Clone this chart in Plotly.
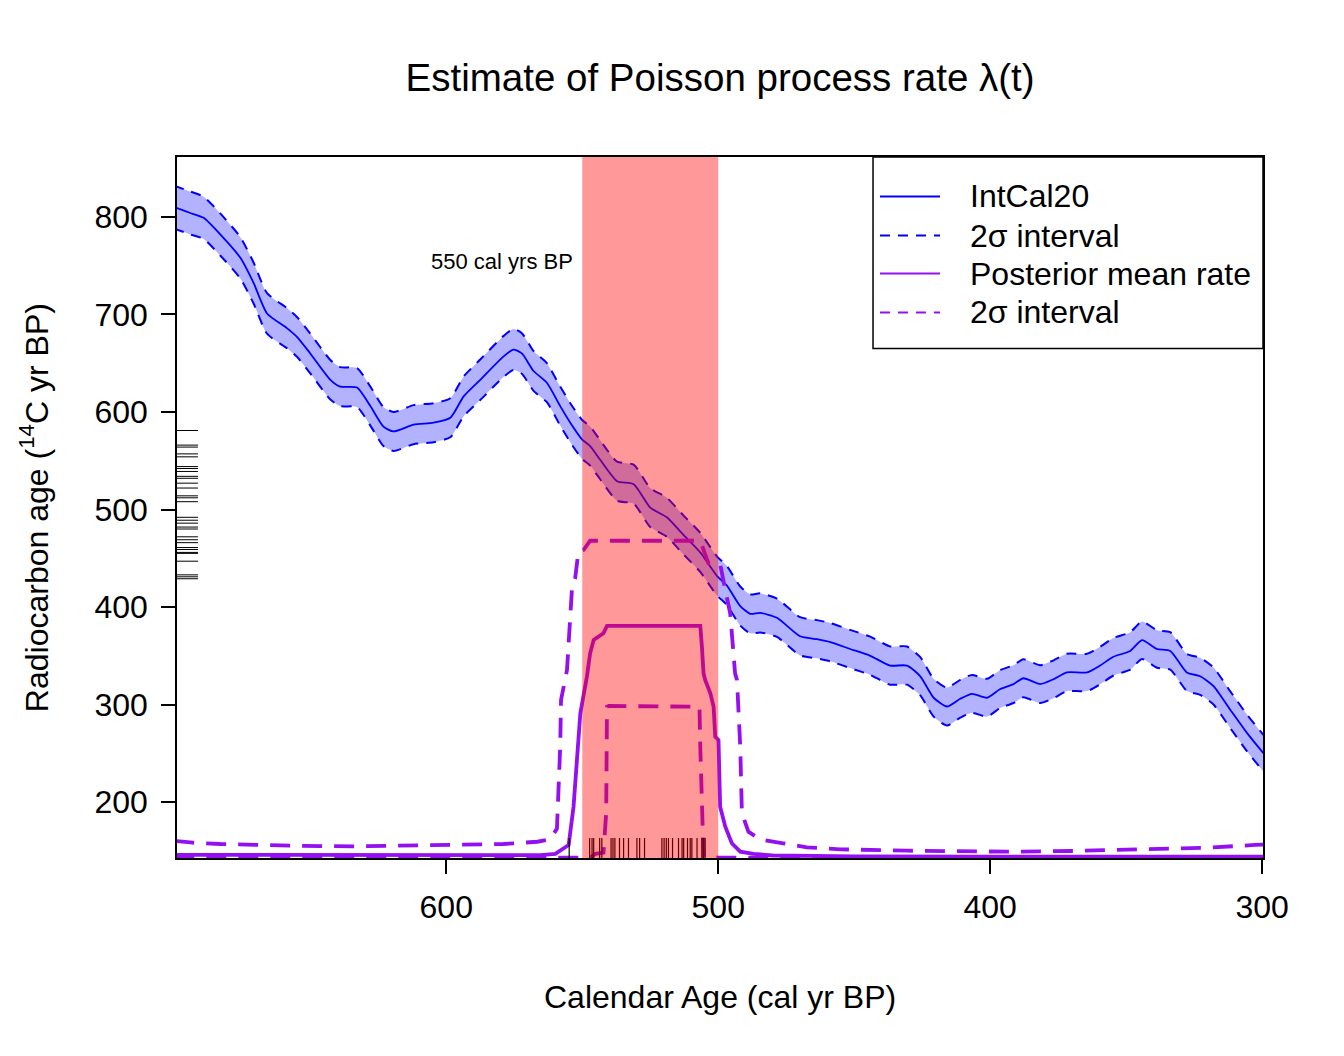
import plotly.graph_objects as go

# IntCal20 curve (cal yr BP, 14C yr BP, 1 sigma)
cal_age = [700, 699.0, 694.1, 689.2, 683.1, 675.7, 670.8, 665.9, 658.6, 654.9, 650.0,
           642.6, 639.0, 632.8, 627.9, 623.1, 619.4, 612.0, 604.7, 598.5, 593.6,
           587.5, 578.9, 575.3, 572.2, 567.9, 563.0, 558.1, 554.4, 550.1, 547.1,
           543.4, 537.2, 531.1, 525.0, 518.9, 512.8, 506.6, 500.5, 496.8, 491.9,
           488.2, 484.6, 478.4, 469.9, 463.7, 458.8, 451.5, 444.1, 436.8, 430.6,
           425.7, 420.8, 415.9, 411.0, 406.7, 401.2, 396.3, 391.4, 387.8, 381.6,
           376.7, 371.8, 364.4, 359.6, 354.7, 348.5, 344.2, 338.7, 333.8, 327.7,
           322.8, 317.9, 311.8, 305.6, 300.1, 299.5]
c14_age = [810, 809, 804, 799, 782, 758, 732, 701, 686, 677, 660,
           633, 626, 625, 606, 585, 580, 587, 589, 594, 616,
           633, 657, 664, 660, 642, 630, 606, 589, 572, 565,
           551, 529, 526, 502, 492, 474, 456, 432, 422, 401,
           393, 394, 389, 370, 367, 364, 357, 350, 340, 340,
           329, 307, 298, 306, 311, 307, 316, 321, 327, 321,
           326, 333, 333, 340, 349, 355, 366, 357, 355, 333,
           329, 319, 295, 271, 252, 250]
c14_sigma = [11.0, 11.0, 11.0, 10.8, 10.8, 10.6, 10.5, 10.4, 10.3, 10.2, 10.2,
             10.1, 10.0, 10.0, 10.0, 10.0, 10.0, 10.0, 10.0, 10.0, 10.2,
             10.4, 10.5, 10.5, 10.4, 10.2, 10.0, 10.0, 10.0, 10.0, 10.0,
             10.0, 10.0, 10.0, 10.0, 10.0, 10.0, 10.0, 10.0, 10.0, 10.0,
             10.0, 10.0, 9.8, 9.8, 9.8, 9.8, 9.8, 9.8, 9.8, 9.8,
             9.8, 9.7, 9.7, 9.7, 9.7, 9.7, 9.7, 9.7, 9.7, 9.7,
             9.7, 9.6, 9.6, 9.6, 9.6, 9.6, 9.6, 9.6, 9.6, 9.5,
             9.5, 9.5, 9.4, 9.4, 9.4, 9.4]

# posterior rate lambda(t), arbitrary units
rate_mean_age = [700, 650, 600, 565.4, 559.9, 555.0, 553.2, 552.0, 550.7, 548.3, 547.1,
                 545.8, 544.0, 542.2, 540.9, 506.6, 506.0, 505.4, 504.8, 502.9, 501.7,
                 501.1, 499.9, 499.3, 497.4, 495.0, 491.9, 487.0, 480, 450, 400, 350, 299]
rate_mean = [0.0022, 0.0021, 0.0020, 0.0021, 0.0029, 0.0093, 0.0366, 0.0675, 0.1032, 0.1293, 0.1460,
             0.1555, 0.1578, 0.1603, 0.1655, 0.1655, 0.1507, 0.1317, 0.1270, 0.1175, 0.1079,
             0.0865, 0.0842, 0.0366, 0.0223, 0.0105, 0.0045, 0.0029, 0.0018, 0.0012, 0.0010, 0.0010, 0.0010]

rate_upper_age = [700, 693.1, 683.1, 670.9, 652.6, 634.2, 615.8, 597.4, 579.0, 566.5, 561.8,
                  559.3, 558.7, 558.1, 557.8, 556.9, 555.6, 553.8, 552.6, 551.4, 549.5,
                  547.1, 506.6, 503.6, 499.3, 497.4, 495.6, 493.8, 493.1, 491.9, 491.3,
                  488.9, 484.6, 476.1, 467.4, 455.1, 430.6, 393.9, 369.5, 344.9, 320.3,
                  302.6, 299]
rate_upper = [0.0123, 0.0109, 0.0100, 0.0093, 0.0086, 0.0083, 0.0088, 0.0093, 0.0100, 0.0116, 0.0133,
              0.0210, 0.0437, 0.0794, 0.1127, 0.1222, 0.1341, 0.1912, 0.1995, 0.2185, 0.2197,
              0.2263, 0.2263, 0.2102, 0.2097, 0.1912, 0.1745, 0.1317, 0.1270, 0.0794, 0.0319,
              0.0188, 0.0133, 0.0105, 0.0076, 0.0062, 0.0052, 0.0045, 0.0050, 0.0062, 0.0073,
              0.0093, 0.0096]

rate_lower_age = [700, 600, 547.1, 545.2, 542.2, 541.2, 540.9, 540.3, 507.8, 506.9, 506.6,
                  506.0, 505.4, 500, 299]
rate_lower = [0.0003, 0.0003, 0.0003, 0.0029, 0.0038, 0.0319, 0.1079, 0.1084, 0.1084, 0.1079, 0.0794,
              0.0319, 0.0009, 0.0003, 0.0003]

# observed radiocarbon determinations (left rug) and sampled calendar ages (bottom rug)
obs_c14 = [581, 566, 564, 557, 554, 544, 542, 539, 534, 532, 527, 522, 514, 512, 508,
           492, 489, 486, 482, 480, 472, 469, 466, 461, 459, 456, 455, 447, 433, 431, 429]
obs_cal = [554.8, 547.3, 546.4, 545.8, 543.6, 542.8, 539.4, 538.7, 538.0, 536.3, 534.8,
           533.0, 529.9, 528.9, 527.1, 520.7, 519.9, 519.1, 518.3, 516.8, 514.6,
           513.3, 512.7, 511.3, 510.3, 509.7, 507.8, 506.0, 505.4, 504.8]

window = [550, 500]

BLUE = "#0000FF"
PURPLE = "#9410F0"
FONT = "Liberation Sans, Arial, sans-serif"

upper = [m + 2 * s for m, s in zip(c14_age, c14_sigma)]
lower = [m - 2 * s for m, s in zip(c14_age, c14_sigma)]

fig = go.Figure()
fig.add_trace(go.Scatter(
    x=cal_age + cal_age[::-1], y=upper + lower[::-1],
    fill="toself", fillcolor="rgba(0,0,255,0.3)",
    line=dict(width=0, shape="spline", smoothing=0.6),
    mode="lines", hoverinfo="skip", showlegend=False,
))
for band in (upper, lower):
    fig.add_trace(go.Scatter(
        x=cal_age, y=band, mode="lines", showlegend=False,
        line=dict(color=BLUE, width=2, dash="10px,8px", shape="spline", smoothing=0.6),
    ))
fig.add_trace(go.Scatter(
    x=cal_age, y=c14_age, mode="lines", showlegend=False,
    line=dict(color=BLUE, width=1.8, shape="spline", smoothing=0.6),
))

for ages, vals, dash in [(rate_upper_age, rate_upper, "20px,12px"),
                         (rate_lower_age, rate_lower, "20px,12px"),
                         (rate_mean_age, rate_mean, "solid")]:
    fig.add_trace(go.Scatter(
        x=ages, y=vals, yaxis="y2", mode="lines", showlegend=False,
        line=dict(color=PURPLE, width=3.8, dash=dash),
    ))

shapes = []
for v in obs_c14:
    shapes.append(dict(type="line", xref="x domain", yref="y", x0=0, x1=0.0193,
                       y0=v, y1=v, line=dict(color="black", width=1)))
for v in obs_cal:
    shapes.append(dict(type="line", xref="x", yref="y domain", x0=v, x1=v,
                       y0=0, y1=0.0285, line=dict(color="black", width=1.2)))
shapes.append(dict(type="rect", xref="x", yref="y domain", x0=window[0], x1=window[1],
                   y0=0, y1=1, fillcolor="rgba(255,0,0,0.4)", line=dict(width=0),
                   layer="above"))

# legend drawn by hand to match the boxed base-R legend
legend_items = [("IntCal20", BLUE, "solid"),
                ("2σ interval", BLUE, "10px,8px"),
                ("Posterior mean rate", PURPLE, "solid"),
                ("2σ interval", PURPLE, "10px,8px")]
legend_rows = [0.9437, 0.8880, 0.8338, 0.7782]
shapes.append(dict(type="rect", xref="paper", yref="paper", x0=0.6409, x1=1.0,
                   y0=0.7268, y1=1.0, line=dict(color="black", width=1.5),
                   fillcolor="white", layer="above"))
annotations = []
for (label, col, dash), yy in zip(legend_items, legend_rows):
    shapes.append(dict(type="line", xref="paper", yref="paper", x0=0.6473, x1=0.7026,
                       y0=yy, y1=yy, line=dict(color=col, width=2, dash=dash),
                       layer="above"))
    annotations.append(dict(xref="paper", yref="paper", x=0.7284, y=yy, text=label,
                            showarrow=False, xanchor="left", yanchor="middle",
                            font=dict(size=32, color="black", family=FONT)))

annotations += [
    dict(x=579.4, y=754, xref="x", yref="y", text="550 cal yrs BP", showarrow=False,
         font=dict(size=22, color="black", family=FONT)),
    dict(xref="paper", yref="paper", x=0.5, y=-0.1976, text="Calendar Age (cal yr BP)",
         showarrow=False, yanchor="middle", font=dict(size=32, color="black", family=FONT)),
    dict(xref="paper", yref="paper", x=-0.132, y=0.5, text="Radiocarbon age (<sup>14</sup>C yr BP)",
         textangle=-90, showarrow=False, xanchor="center", yanchor="middle",
         font=dict(size=32, color="black", family=FONT)),
]

axis_style = dict(showline=True, linecolor="black", linewidth=1.5, mirror=True,
                  showgrid=False, zeroline=False, ticks="outside", ticklen=14,
                  tickwidth=1.5, tickcolor="black",
                  tickfont=dict(size=32, color="black", family=FONT))

# page body adds an 8px offset, so the figure is a bit smaller than the window
fig.update_layout(
    width=1336, height=1048,
    margin=dict(l=169, r=81, t=149, b=198),
    paper_bgcolor="white", plot_bgcolor="white",
    title=dict(text="Estimate of Poisson process rate λ(t)", x=0.533, xanchor="center",
               y=0.934, yanchor="middle", font=dict(size=38.5, color="black", family=FONT)),
    xaxis=dict(range=[699, 299.7], tickvals=[300, 400, 500, 600], ticklabelstandoff=6,
               **axis_style),
    yaxis=dict(range=[142.7, 861.4], tickvals=[200, 300, 400, 500, 600, 700, 800],
               ticklabelstandoff=7, **axis_style),
    yaxis2=dict(range=[0, 0.5], overlaying="y", visible=False, fixedrange=True),
    shapes=shapes, annotations=annotations, showlegend=False,
)

fig.write_html("out.html")
